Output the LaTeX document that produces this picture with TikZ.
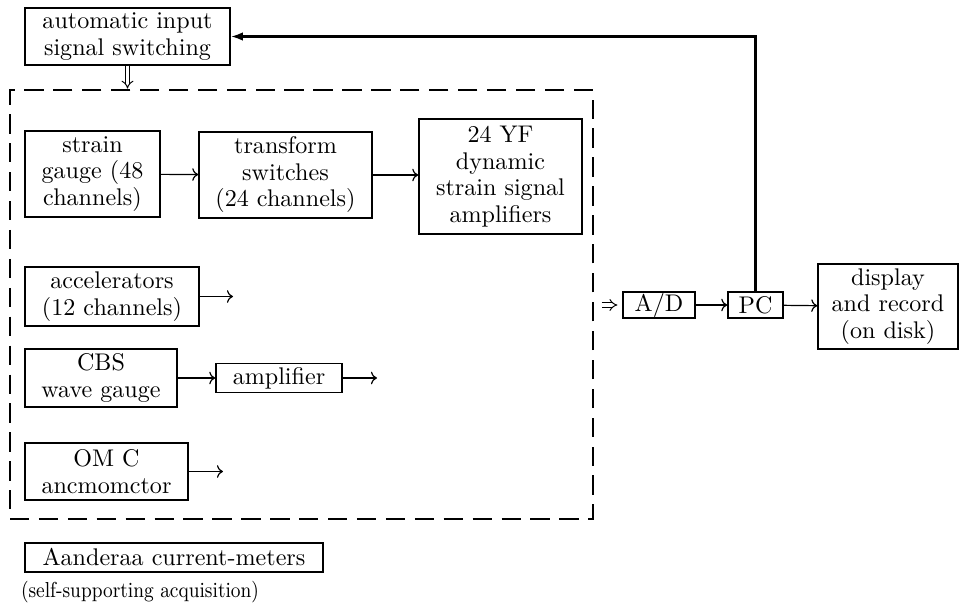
\documentclass[tikz,border=0pt]{standalone}
\usetikzlibrary{arrows.meta}
\newcommand{\upx}{0.415pt}
\begin{document}
\begin{tikzpicture}[x=\upx, y=-\upx,
  box/.style 2 args={draw, line width=0.6pt, align=center, inner sep=0pt,
    minimum width=#1*\upx, minimum height=#2*\upx, font=\fontsize{10}{11}\selectfont},
  link/.style={-{To[length=2.5pt]}, line width=0.5pt},
  dbl/.style={double, double distance=1.3pt, line width=0.4pt, -{Implies}}]
  \useasboundingbox (0,0) rectangle (960,613);
  % Input switching
  \node[box={205}{57}] (switch) at (127.5,36.5) {automatic input\\signal switching};
  % Acquisition group
  \node[draw, dash pattern=on 8pt off 4pt, line width=1.1pt,
    minimum width=583*\upx, minimum height=429*\upx] (group) at (301.5,304.5) {};
  % Sensors and conditioning
  \node[box={135}{86}] (strain) at (92.5,174) {strain\\gauge (48\\channels)};
  \node[box={173}{86}] (trans) at (285.5,175) {transform\\switches\\(24 channels)};
  \node[box={163}{115}] (yf) at (500.5,176.5) {24 YF\\dynamic\\strain signal\\amplifiers};
  \node[box={174}{59}] (acc) at (112,296.5) {accelerators\\(12 channels)};
  \node[box={152}{58}] (cbs) at (101,378) {CBS\\wave gauge};
  \node[box={126}{29}] (amp) at (279,378) {amplifier};
  \node[box={163}{57}] (omc) at (106.5,471.5) {OM C\\ancmomctor};
  \coordinate (accend) at (233,296.5);
  \coordinate (ampend) at (377,378);
  \coordinate (omcend) at (223,471.5);
  % Current meters
  \node[box={298}{29}] (aand) at (174,557.5) {Aanderaa current-meters};
  \node[font=\fontsize{9}{11}\selectfont, xscale=0.87, transform shape, inner sep=0pt]
    (selfnote) at (140,592) {(self-supporting acquisition)};
  % Conversion and recording
  \node[box={72}{26}] (ad) at (659,305) {A/D};
  \node[box={55}{26}] (pc) at (755.5,305) {PC};
  \node[box={140}{85}] (disp) at (888,306.5) {display\\and record\\(on disk)};
  % Connectors
  \draw[link] (strain) -- (trans);
  \draw[link] (trans) -- (yf.west |- trans.east);
  \draw[link] (acc.east) -- (accend);
  \draw[link] (cbs) -- (amp);
  \draw[link] (amp.east) -- (ampend);
  \draw[link] (omc.east) -- (omcend);
  \draw[link] (ad) -- (pc);
  \draw[link] (pc) -- (disp);
  \draw[dbl] (switch.south) -- (switch.south |- group.north);
  \draw[dbl, shorten <=3pt, shorten >=2pt] (group.east |- ad.west) -- (ad.west);
  % Feedback to switching
  \draw[-{Latex[length=5pt,width=3.5pt]}, line width=0.9pt] (pc.north) |- (switch.east);
\end{tikzpicture}
\end{document}
